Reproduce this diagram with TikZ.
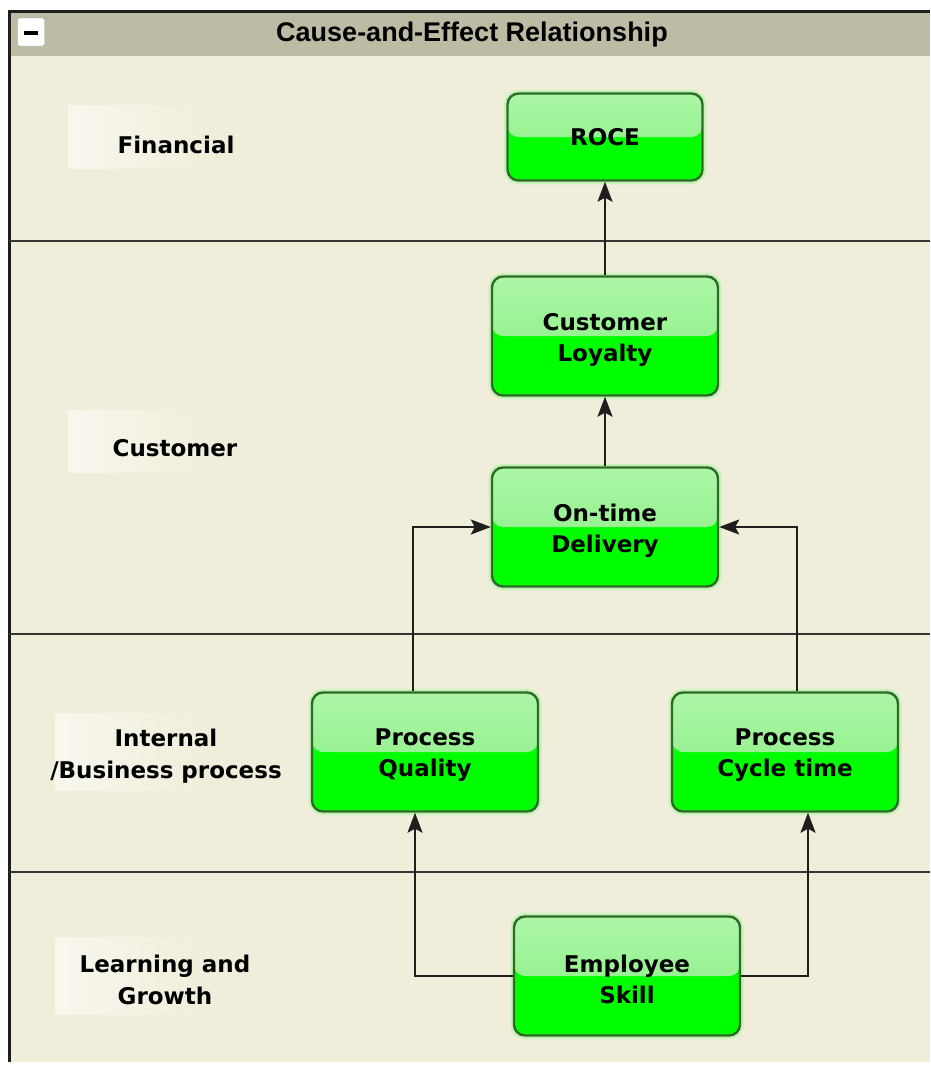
\documentclass[tikz,border=0pt]{standalone}
\usepackage{fontspec}
\setmainfont{DejaVu Sans}
\newfontfamily\titlefont{Liberation Sans}
\usetikzlibrary{arrows.meta}
\definecolor{bgc}{HTML}{F0EDDA}
\definecolor{barc}{HTML}{BDBBA4}
\definecolor{topg}{HTML}{ACF6A6}
\definecolor{midg}{HTML}{84EE7E}
\definecolor{botg}{HTML}{00FF00}
\definecolor{edgeg}{HTML}{2F6A2A}
\definecolor{linec}{HTML}{1E1E1E}
\begin{document}
\begin{tikzpicture}[x=1pt,y=-1pt,
  box/.style={draw=edgeg, line width=2.4pt, rounded corners=11pt,
    minimum width=226pt, minimum height=119pt, fill=botg, inner sep=0pt,
    preaction={draw=green!55!white, line width=7pt, opacity=0.35},
    path picture={\shade[top color=topg, bottom color=midg]
      (path picture bounding box.north west) rectangle (path picture bounding box.east);}},
  tx/.style={font=\bfseries\fontsize{23}{31}\selectfont, align=center, inner sep=0pt},
  tx2/.style={tx, yshift=-3.5pt},
  lane/.style={font=\bfseries\fontsize{23}{32}\selectfont, align=center, inner sep=0pt},
  sep/.style={draw=linec!90, line width=1.4pt},
  arr/.style={draw=linec, line width=2.1pt, -{Stealth[length=20pt,width=15pt,inset=4pt]}}]
\useasboundingbox (0,0) rectangle (930,1066);
\fill[white] (0,0) rectangle (930,1066);
\fill[bgc] (9,11) rectangle (930,1062);
% title bar
\fill[barc] (9,11) rectangle (930,56);
\draw[linec, line width=3pt] (9,11) -- (930,11);
\draw[linec, line width=3pt] (9,10) -- (9,1062);
\node[draw=gray!70, fill=white, minimum width=27pt, minimum height=28pt, inner sep=0pt, rounded corners=2pt] (minus) at (31,32) {};
\fill[black] (24,31) rectangle (38,35);
\node[font=\titlefont\bfseries\fontsize{27}{27}\selectfont, inner sep=0pt] (title) at (472,35) {Cause-and-Effect Relationship};
% lane separators
\draw[sep] (9,241) -- (930,241);
\draw[sep] (9,634) -- (930,634);
\draw[sep] (9,872) -- (930,872);
% lane label backgrounds
\shade[left color=white!55!bgc, right color=bgc] (68,105) rectangle (210,168);
\shade[left color=white!55!bgc, right color=bgc] (68,410) rectangle (210,472);
\shade[left color=white!55!bgc, right color=bgc] (55,713) rectangle (210,790);
\shade[left color=white!55!bgc, right color=bgc] (55,937) rectangle (210,1014);
% lane labels
\node[lane] (lfin) at (176,145) {Financial};
\node[lane] (lcus) at (175,448) {Customer};
\node[lane] (lint) at (166,756) {Internal\\/Business process};
\node[lane] (llea) at (165,980) {Learning and\\Growth};
% nodes
\node[box, minimum width=195pt, minimum height=87pt, label={[tx]center:ROCE}] (roce) at (605,137) {};
\node[box, label={[tx2]center:{Customer\\Loyalty}}] (loyal) at (605,336) {};
\node[box, label={[tx2]center:{On-time\\Delivery}}] (deliv) at (605,527) {};
\node[box, label={[tx2]center:{Process\\Quality}}] (pq) at (425,752) {};
\node[box, label={[tx2]center:{Process\\Cycle time}}] (pct) at (785,752) {};
\node[box, label={[tx2]center:{Employee\\Skill}}] (skill) at (627,976) {};
% connectors
\draw[arr] (loyal.north) -- (roce.south);
\draw[arr] (deliv.north) -- (loyal.south);
\draw[arr] ([xshift=-12pt]pq.north) |- (deliv.west);
\draw[arr] ([xshift=12pt]pct.north) |- (deliv.east);
\draw[arr] (skill.west) -| ([xshift=-10pt]pq.south);
\draw[arr] (skill.east) -| ([xshift=23pt]pct.south);
\end{tikzpicture}
\end{document}
